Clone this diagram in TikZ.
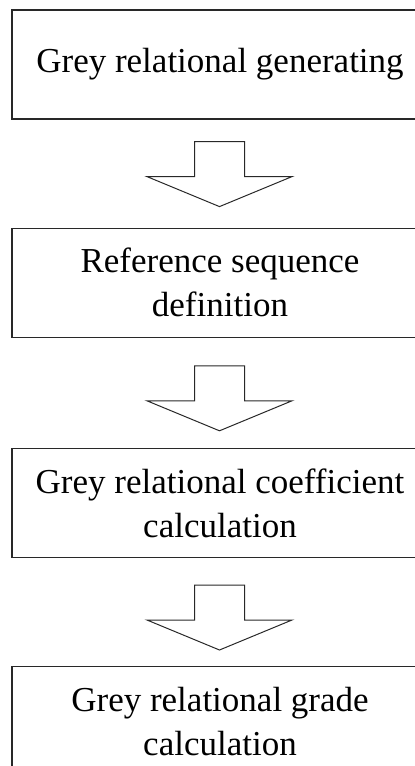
\documentclass[tikz,border=0pt]{standalone}
\usepackage{fontspec}
\setmainfont{Liberation Serif}
\usepackage{tikz}
\usetikzlibrary{positioning, calc}
\definecolor{boxline}{RGB}{40, 40, 40}

\newcommand{\flowarrow}[3]{%
    \draw[arrowline] ($(#1.south |- #2.north)+(-0.5,{65+#3})$) -- ++(25,0) -- ++(0,-35) -- ++(47.5,0)
        -- ++(-72.5,-30) -- ++(-72.5,30) -- ++(47.5,0) -- ++(0,35) -- cycle;}

\begin{document}
\begin{tikzpicture}[x=1pt, y=1pt,
    stagebox/.style={draw=boxline, line width=1.2pt, minimum width=416pt, minimum height=109pt, align=center, inner sep=0pt, font=\fontsize{35}{44}\selectfont},
    arrowline/.style={draw=boxline, line width=1pt, line join=miter}]
    \useasboundingbox (0,0) rectangle (415,-766);
    \clip (0,0) rectangle (415,-766);

    \node[stagebox] (gen) at (220,-64.5) {Grey relational generating};
    \node[stagebox, below=108pt of gen] (ref) {Reference sequence\\definition};
    \node[stagebox, below=110pt of ref] (coef) {Grey relational coefficient\\calculation};
    \node[stagebox, below=108pt of coef] (grade) {Grey relational grade\\calculation};

    \flowarrow{gen}{ref}{21}
    \flowarrow{ref}{coef}{17}
    \flowarrow{coef}{grade}{16}
\end{tikzpicture}
\end{document}
